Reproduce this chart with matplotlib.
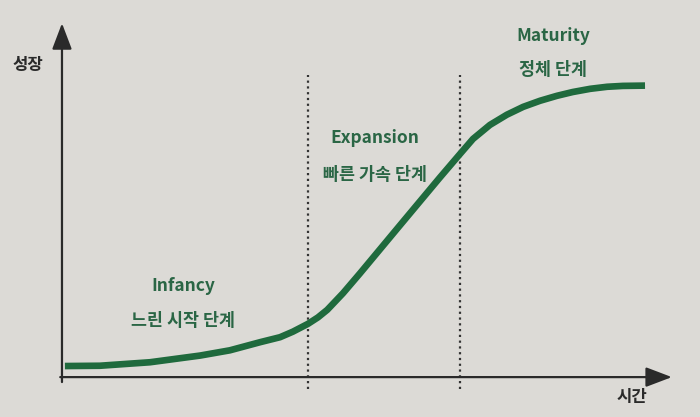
import matplotlib
matplotlib.use("Agg")
import matplotlib.pyplot as plt

plt.rcParams['font.family'] = ['Noto Sans CJK KR', 'DejaVu Sans']

# S-curve (time, growth)
time = [0.05, 0.65, 1.51, 2.37, 2.88, 3.40, 3.74, 3.96, 4.22, 4.39, 4.55,
        4.82, 5.11, 5.80, 6.48, 6.83, 7.05, 7.34, 7.63, 7.91, 8.20, 8.49,
        8.76, 9.06, 9.35, 9.62, 10.0]
growth = [3.8, 3.9, 5.1, 7.4, 9.2, 12.0, 13.7, 15.6, 18.3, 20.5, 23.1,
          28.8, 35.6, 52.2, 68.5, 76.7, 81.8, 86.6, 90.1, 92.8, 94.9, 96.6,
          97.9, 99.0, 99.7, 100.0, 100.1]

# phase boundaries
boundaries = [4.22, 6.83]

# phase labels
phase_en = ["Infancy", "Expansion", "Maturity"]
phase_ko = ["느린 시작 단계", "빠른 가속 단계", "정체 단계"]
phase_x = [2.08, 5.37, 8.42]
phase_y_en = [31.2, 82.2, 117.1]
phase_y_ko = [19.2, 69.5, 105.5]

y_label = "성장"
x_label = "시간"

bg = "#dcdad6"
green_line = "#1f6a3d"
green_text = "#2a6645"
ink = "#2a2a2a"

fig = plt.figure(figsize=(7.0, 4.17), dpi=100)
fig.patch.set_facecolor(bg)
ax = fig.add_axes([0, 0, 1, 1])
ax.set_facecolor(bg)
ax.set_xlim(-1.063, 10.943)
ax.set_ylim(-13.7, 129.5)
ax.axis("off")

# axes with arrows
ax.annotate("", xy=(0.0, 121.5), xytext=(0, -1.7),
            arrowprops=dict(arrowstyle="-|>,head_length=1.0,head_width=0.38",
                            lw=1.6, color=ink, shrinkA=0, shrinkB=0,
                            mutation_scale=16))
ax.annotate("", xy=(10.46, 0), xytext=(-0.03, 0),
            arrowprops=dict(arrowstyle="-|>,head_length=1.0,head_width=0.38",
                            lw=1.6, color=ink, shrinkA=0, shrinkB=0,
                            mutation_scale=16))

# dotted dividers
for b in boundaries:
    ax.plot([b, b], [-4.1, 103.8], color="#333333", lw=1.6,
            linestyle=(0, (1, 1.6)), zorder=2)

# S-curve
ax.plot(time, growth, color=green_line, lw=4.8, solid_capstyle="butt",
        solid_joinstyle="round", zorder=3)

# labels
for en, ko, x, ye, yk in zip(phase_en, phase_ko, phase_x, phase_y_en, phase_y_ko):
    ax.text(x, ye, en, ha="center", va="center", fontsize=12.5,
            fontweight="bold", color=green_text)
    ax.text(x, yk, ko, ha="center", va="center", fontsize=12.5,
            fontweight="bold", color=green_text)

ax.text(-0.58, 107.2, y_label, ha="center", va="center", fontsize=12,
        fontweight="bold", color=ink)
ax.text(9.78, -6.8, x_label, ha="center", va="center", fontsize=12,
        fontweight="bold", color=ink)

fig.savefig("out.png", dpi=100, facecolor=bg)
